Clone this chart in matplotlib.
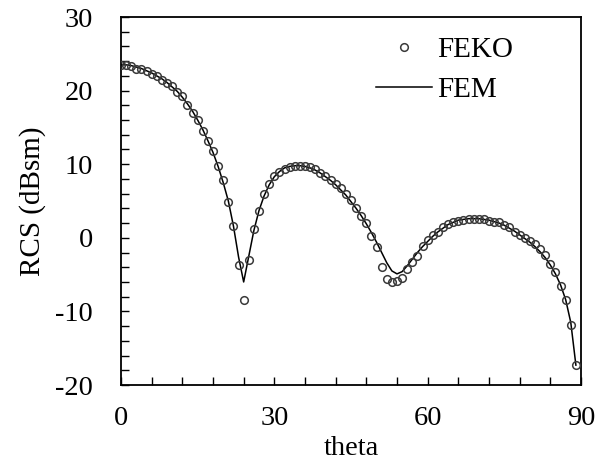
import matplotlib
matplotlib.use("Agg")
import matplotlib.pyplot as plt
from matplotlib.ticker import MultipleLocator

theta_feko = list(range(0, 90))
rcs_feko = [23.5, 23.5, 23.4, 23.0, 23.0, 22.6, 22.3, 22.0, 21.5, 21.1,
            20.6, 19.8, 19.2, 18.1, 17.0, 16.0, 14.5, 13.2, 11.8, 9.8,
            7.8, 4.8, 1.6, -3.7, -8.5, -3.0, 1.2, 3.6, 5.9, 7.3,
            8.4, 9.0, 9.4, 9.6, 9.7, 9.7, 9.7, 9.6, 9.3, 8.8,
            8.4, 7.8, 7.3, 6.8, 5.9, 5.1, 4.0, 2.9, 2.0, 0.3,
            -1.3, -4.0, -5.6, -6.0, -5.9, -5.5, -4.3, -3.3, -2.5, -1.1,
            -0.3, 0.4, 0.8, 1.4, 1.9, 2.2, 2.3, 2.4, 2.55, 2.55,
            2.55, 2.5, 2.3, 2.2, 2.1, 1.8, 1.4, 0.8, 0.4, 0.0,
            -0.4, -0.9, -1.5, -2.4, -3.6, -4.7, -6.6, -8.5, -11.9, -17.3]

theta_fem = list(range(0, 90))
rcs_fem = [23.5, 23.5, 23.4, 23.2, 23.0, 22.7, 22.4, 22.0, 21.6, 21.1,
           20.5, 19.9, 19.1, 18.2, 17.2, 16.0, 14.7, 13.2, 11.6, 9.7,
           7.5, 5.0, 1.6, -2.6, -6.0, -2.5, 1.0, 3.7, 5.7, 7.2,
           8.3, 9.0, 9.5, 9.7, 9.8, 9.8, 9.7, 9.5, 9.2, 8.8,
           8.3, 7.8, 7.2, 6.5, 5.8, 4.9, 4.0, 3.0, 1.9, 0.7,
           -0.6, -2.0, -3.4, -4.5, -4.9, -4.6, -3.8, -2.9, -2.0, -1.2,
           -0.5, 0.2, 0.8, 1.3, 1.8, 2.1, 2.4, 2.5, 2.6, 2.6,
           2.6, 2.5, 2.4, 2.2, 2.0, 1.7, 1.3, 0.9, 0.4, -0.1,
           -0.6, -1.2, -1.9, -2.7, -3.7, -4.9, -6.4, -8.4, -11.5, -17.3]

x_ticks = [0, 30, 60, 90]
y_ticks = [-20, -10, 0, 10, 20, 30]

plt.rcParams['font.family'] = ['Liberation Serif', 'DejaVu Serif']

fig = plt.figure(figsize=(5.95, 4.65), dpi=100)
ax = fig.add_axes([121/595, 1 - 385/465, 460/595, 368/465])

ax.plot(theta_fem, rcs_fem, color='black', lw=1.1, label='FEM', zorder=2)
ax.plot(theta_feko, rcs_feko, linestyle='none', marker='o', ms=5.5,
        mfc='none', mec='#3a3a3a', mew=1.1, label='FEKO', zorder=3)

ax.set_xlim(0, 90)
ax.set_ylim(-20, 30)
ax.set_xticks(x_ticks)
ax.set_yticks(y_ticks)
ax.set_xticklabels([str(v) for v in x_ticks])
ax.set_yticklabels([str(v) for v in y_ticks])
ax.xaxis.set_minor_locator(MultipleLocator(6))
ax.yaxis.set_minor_locator(MultipleLocator(2))
ax.tick_params(which='both', direction='in', length=6, width=1.0,
               top=False, right=False, labelsize=20.5)
ax.tick_params(axis='y', which='both', pad=20)
ax.tick_params(axis='x', which='both', pad=15)
for s in ax.spines.values():
    s.set_linewidth(1.3)

ax.set_xlabel('theta', fontsize=20.5, labelpad=4)
ax.set_ylabel('RCS (dBsm)', fontsize=21, labelpad=7)

handles, labels = ax.get_legend_handles_labels()
leg = ax.legend(handles[::-1], labels[::-1], loc='upper left',
                bbox_to_anchor=(0.555, 0.946), frameon=False, fontsize=21,
                handlelength=1.9, handletextpad=0.2, labelspacing=0.47,
                borderpad=0, borderaxespad=0)

fig.savefig('out.png', dpi=100)
